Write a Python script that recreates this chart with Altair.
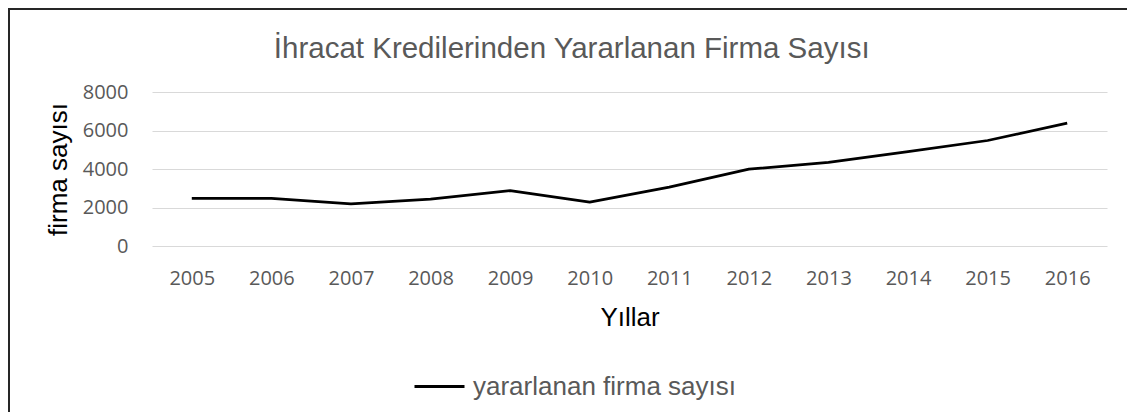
import altair as alt
import pandas as pd

years = ["2005", "2006", "2007", "2008", "2009", "2010",
         "2011", "2012", "2013", "2014", "2015", "2016"]
firms = [2480, 2480, 2190, 2430, 2880, 2280,
         3060, 3990, 4340, 4900, 5480, 6380]
series_name = "yararlanan firma sayısı"
chart_title = "İhracat Kredilerinden Yararlanan Firma Sayısı"
y_ticks = [0, 2000, 4000, 6000, 8000]

df = pd.DataFrame({"year": years, "firms": firms, "series": [series_name] * len(years)})

W, H = 955, 154
SANS = "Liberation Sans"
NUM = "Open Sans"
GRAY = "#595959"

line = alt.Chart(df).mark_line(strokeWidth=2.75, strokeJoin="round").encode(
    x=alt.X("year:O", sort=years,
            scale=alt.Scale(type="point", padding=0.5),
            axis=alt.Axis(title="Yıllar", labelAngle=0, ticks=False, domain=False, grid=False,
                          labelFont=NUM, labelFontSize=20, labelColor=GRAY, labelPadding=22,
                          titleFont=SANS, titleFontSize=26, titleFontWeight="normal",
                          titleColor="#000000", titleX=W / 2, titleY=79,
                          titleBaseline="alphabetic", titleAlign="center")),
    y=alt.Y("firms:Q", scale=alt.Scale(domain=[0, 8000], nice=False),
            axis=alt.Axis(title="firma sayısı", values=y_ticks, format="d", ticks=False,
                          domain=False, grid=True, gridColor="#d9d9d9", gridWidth=1,
                          labelFont=NUM, labelFontSize=20, labelColor=GRAY, labelPadding=24,
                          titleFont=SANS, titleFontSize=26, titleFontWeight="normal",
                          titleColor="#000000", titleAngle=270, titleX=-86, titleY=H / 2,
                          titleBaseline="alphabetic", titleAlign="center")),
    color=alt.Color("series:N", scale=alt.Scale(range=["#000000"]),
                    legend=alt.Legend(title=None, orient="none", legendX=261, legendY=268,
                                      symbolType="stroke", symbolSize=2500,
                                      symbolStrokeWidth=3, labelFont=SANS,
                                      labelFontSize=26, labelColor=GRAY, labelOffset=7,
                                      labelLimit=0, padding=0)),
)

title_df = pd.DataFrame({"t": [chart_title]})
title = alt.Chart(title_df).mark_text(
    font=SANS, fontSize=29.5, color=GRAY, align="center", baseline="alphabetic"
).encode(text="t:N", x=alt.value(419.7), y=alt.value(-33.7))

frame = alt.Chart(alt.Data(values=[{"a": 1}])).mark_rect(
    fillOpacity=0, stroke="#262626", strokeWidth=2
).encode(x=alt.value(-143), y=alt.value(-83), x2=alt.value(3000), y2=alt.value(3000))

chart = alt.layer(frame, line, title).properties(
    width=W, height=H,
    autosize=alt.AutoSizeParams(type="none"),
    padding={"left": 144, "top": 84, "right": 20, "bottom": 166},
).configure_view(stroke=None)

chart.save("out.html", embed_options={"renderer": "svg", "actions": False})
